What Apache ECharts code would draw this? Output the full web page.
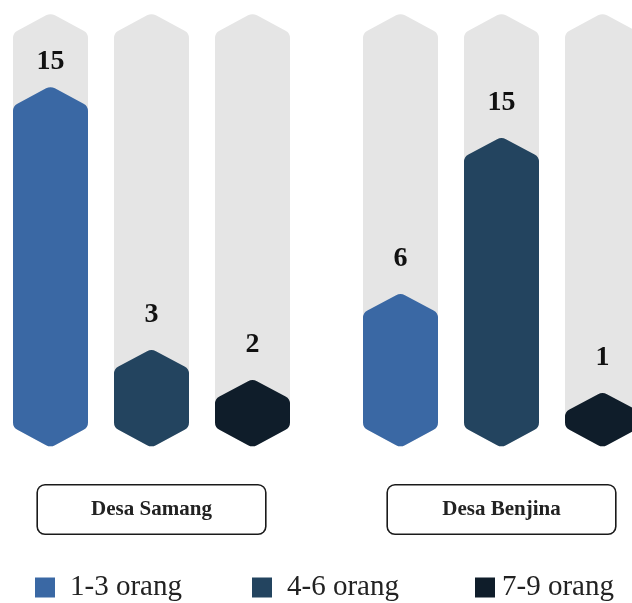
<!DOCTYPE html>
<html><head><meta charset="utf-8">
<script src="https://cdn.jsdelivr.net/npm/echarts@6/dist/echarts.min.js"></script>
<style>html,body{margin:0;padding:0;background:#fff}#c{width:632px;height:603px}</style>
</head><body><div id="c"></div>
<script>
const categories = ['Desa Samang', 'Desa Benjina'];
const seriesNames = ['1-3 orang', '4-6 orang', '7-9 orang'];
// counts shown as labels
const counts13 = [15, 6];
const counts46 = [3, 15];
const counts79 = [2, 1];
// fill level of each column (percent of full column height)
const level13 = [83.2, 35.6];
const level46 = [22.7, 71.5];
const level79 = [15.8, 12.8];
const fullLevel = 100;

const colors = ['#3A68A4', '#23445F', '#0F1D2A'];
const bgColor = '#E5E5E5';
const SERIF = '"Liberation Serif", "DejaVu Serif", serif';

function roundedPolyPath(pts, r) {
  const n = pts.length;
  let d = '';
  for (let i = 0; i < n; i++) {
    const p0 = pts[(i - 1 + n) % n], p1 = pts[i], p2 = pts[(i + 1) % n];
    const l1 = Math.hypot(p0[0] - p1[0], p0[1] - p1[1]);
    const l2 = Math.hypot(p2[0] - p1[0], p2[1] - p1[1]);
    const t1 = Math.min(r / l1, 0.5), t2 = Math.min(r / l2, 0.5);
    const a = [p1[0] + (p0[0] - p1[0]) * t1, p1[1] + (p0[1] - p1[1]) * t1];
    const b = [p1[0] + (p2[0] - p1[0]) * t2, p1[1] + (p2[1] - p1[1]) * t2];
    d += (i === 0 ? 'M' : 'L') + a[0] + ' ' + a[1] + ' Q' + p1[0] + ' ' + p1[1] + ' ' + b[0] + ' ' + b[1] + ' ';
  }
  return d + 'Z';
}
function hexPath(xc, yTop, yBot, w, p) {
  p = Math.min(p, (yBot - yTop) / 2);
  const h = w / 2;
  return roundedPolyPath([
    [xc, yTop], [xc + h, yTop + p], [xc + h, yBot - p],
    [xc, yBot], [xc - h, yBot - p], [xc - h, yTop + p]
  ], 5);
}

const levels = [level13, level46, level79];
const counts = [counts13, counts46, counts79];

function makeSeries(s) {
  return {
    name: seriesNames[s],
    type: 'custom',
    clip: false,
    itemStyle: { color: colors[s] },
    data: categories.map((c, i) => [i, levels[s][i], counts[s][i]]),
    renderItem: function (params, api) {
      const band = api.size([1, 0])[0];
      const base = api.coord([api.value(0), 0]);
      const top = api.coord([api.value(0), api.value(1)]);
      const full = api.coord([api.value(0), fullLevel]);
      const xc = base[0] + (s - 1) * band * (101 / 350);
      const w = band * (75 / 350);
      // keep the label inside the column, below its top shoulder
      const ly = Math.max(top[1] - 34, full[1] + 49);
      return {
        type: 'group',
        children: [
          { type: 'path', shape: { pathData: hexPath(xc, full[1], base[1], w, 20) }, style: { fill: bgColor } },
          { type: 'path', shape: { pathData: hexPath(xc, top[1], base[1], w, 20) }, style: { fill: colors[s] } },
          { type: 'text', style: { text: String(api.value(2)), x: xc, y: ly, align: 'center', verticalAlign: 'middle',
              font: 'bold 28px ' + SERIF, fill: '#111' } }
        ]
      };
    }
  };
}

const legendLefts = [35, 252, 475];
const legendPads = [10, 10, 2];

const chart = echarts.init(document.getElementById('c'));
chart.setOption({
  animation: false,
  backgroundColor: '#fff',
  grid: { left: -23.5, width: 700, top: 13, height: 434.5, containLabel: false, outerBoundsMode: 'none' },
  xAxis: {
    type: 'category', data: categories,
    axisLine: { show: false }, axisTick: { show: false }, splitLine: { show: false },
    axisLabel: {
      interval: 0, margin: 38,
      fontFamily: SERIF, fontWeight: 'bold', fontSize: 21, color: '#222',
      backgroundColor: '#fff', borderColor: '#1a1a1a', borderWidth: 1.6, borderRadius: 7,
      width: 227, height: 48, lineHeight: 48, align: 'center', padding: 0
    }
  },
  yAxis: { type: 'value', min: 0, max: fullLevel, show: false },
  legend: seriesNames.map((n, i) => ({
    data: [{ name: n, icon: 'rect' }],
    left: legendLefts[i], top: 573, padding: 0,
    itemWidth: 20, itemHeight: 20,
    textStyle: { fontFamily: SERIF, fontSize: 29, color: '#222', padding: [0, 0, 0, legendPads[i]] }
  })),
  series: [0, 1, 2].map(makeSeries)
});
</script></body></html>
